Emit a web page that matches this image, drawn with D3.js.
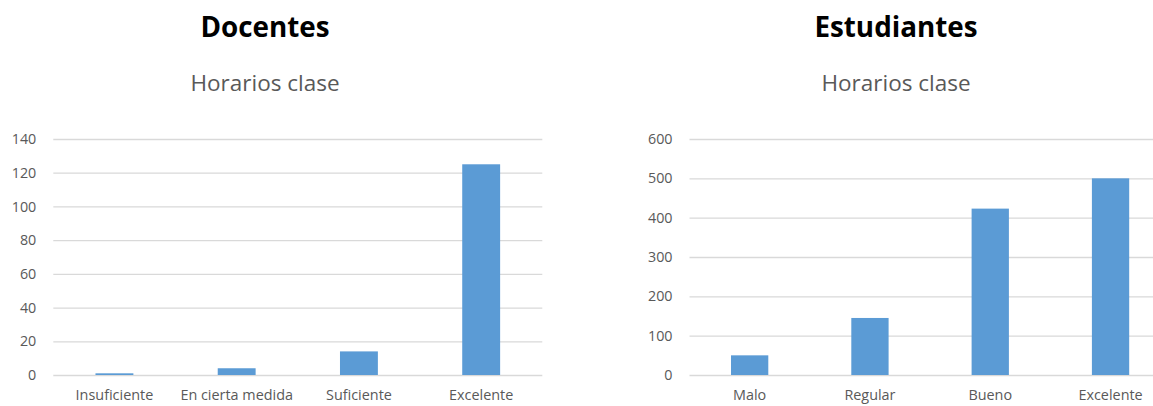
<!DOCTYPE html>
<html>
<head>
<meta charset="utf-8">
<script src="https://cdn.jsdelivr.net/npm/d3@7"></script>
<style>
  html, body { margin: 0; padding: 0; background: #fff; }
  svg { display: block; font-family: "Open Sans", "Noto Sans", sans-serif; }
</style>
</head>
<body>
<svg id="chart" width="1153" height="406"></svg>
<script>
// ---- Data ----
const docentesCategories = ["Insuficiente", "En cierta medida", "Suficiente", "Excelente"];
const docentesValues = [1, 4, 14, 125];
const docentesTicks = [0, 20, 40, 60, 80, 100, 120, 140];

const estudiantesCategories = ["Malo", "Regular", "Bueno", "Excelente"];
const estudiantesValues = [50, 145, 423, 500];
const estudiantesTicks = [0, 100, 200, 300, 400, 500, 600];

const titles = ["Docentes", "Estudiantes"];
const subtitle = "Horarios clase";

// ---- Drawing ----
const svg = d3.select("#chart");
const barColor = "#5b9bd5";
const gridColor = "#d9d9d9";
const textColor = "#595959";

function drawPanel(cfg) {
  const g = svg.append("g");
  const x = d3.scaleBand()
    .domain(cfg.categories)
    .range([cfg.x0, cfg.x1])
    .paddingInner(0.69)
    .paddingOuter(0.345);
  const y = d3.scaleLinear()
    .domain([0, cfg.max])
    .range([375, 139]);

  // title and subtitle
  g.append("text")
    .attr("x", cfg.titleX).attr("y", 37)
    .attr("text-anchor", "middle")
    .attr("font-size", 27.8).attr("font-weight", "bold")
    .attr("fill", "#000")
    .text(cfg.title);
  g.append("text")
    .attr("x", cfg.titleX).attr("y", 91)
    .attr("text-anchor", "middle")
    .attr("font-size", 22.5)
    .attr("fill", textColor)
    .text(subtitle);

  // gridlines + y tick labels via axis
  const yAxis = d3.axisLeft(y)
    .tickValues(cfg.ticks)
    .tickSize(-(cfg.gridEnd - cfg.x0))
    .tickPadding(17);
  const ya = g.append("g")
    .attr("transform", `translate(${cfg.x0},0)`)
    .call(yAxis);
  ya.select(".domain").remove();
  ya.selectAll(".tick line").attr("stroke", gridColor).attr("stroke-width", 1.3);
  ya.selectAll(".tick text")
    .attr("font-size", 14.3).attr("fill", textColor)
    .attr("font-family", "Open Sans, sans-serif");

  // bars
  g.selectAll("rect.bar")
    .data(cfg.values)
    .join("rect")
    .attr("class", "bar")
    .attr("x", (d, i) => x(cfg.categories[i]))
    .attr("width", x.bandwidth())
    .attr("y", d => y(d))
    .attr("height", d => y(0) - y(d))
    .attr("fill", barColor);

  // x axis labels
  const xAxis = d3.axisBottom(x).tickSize(0).tickPadding(15);
  const xa = g.append("g")
    .attr("transform", `translate(0,${y(0)})`)
    .call(xAxis);
  xa.select(".domain").remove();
  xa.selectAll(".tick text")
    .attr("font-size", 14.4).attr("fill", textColor)
    .attr("font-family", "Open Sans, sans-serif");
}

drawPanel({
  title: titles[0], titleX: 265,
  categories: docentesCategories, values: docentesValues, ticks: docentesTicks,
  max: 140, x0: 53.3, x1: 542.3, gridEnd: 542.3
});
drawPanel({
  title: titles[1], titleX: 896,
  categories: estudiantesCategories, values: estudiantesValues, ticks: estudiantesTicks,
  max: 600, x0: 689.5, x1: 1170.7, gridEnd: 1170.7
});
</script>
</body>
</html>
